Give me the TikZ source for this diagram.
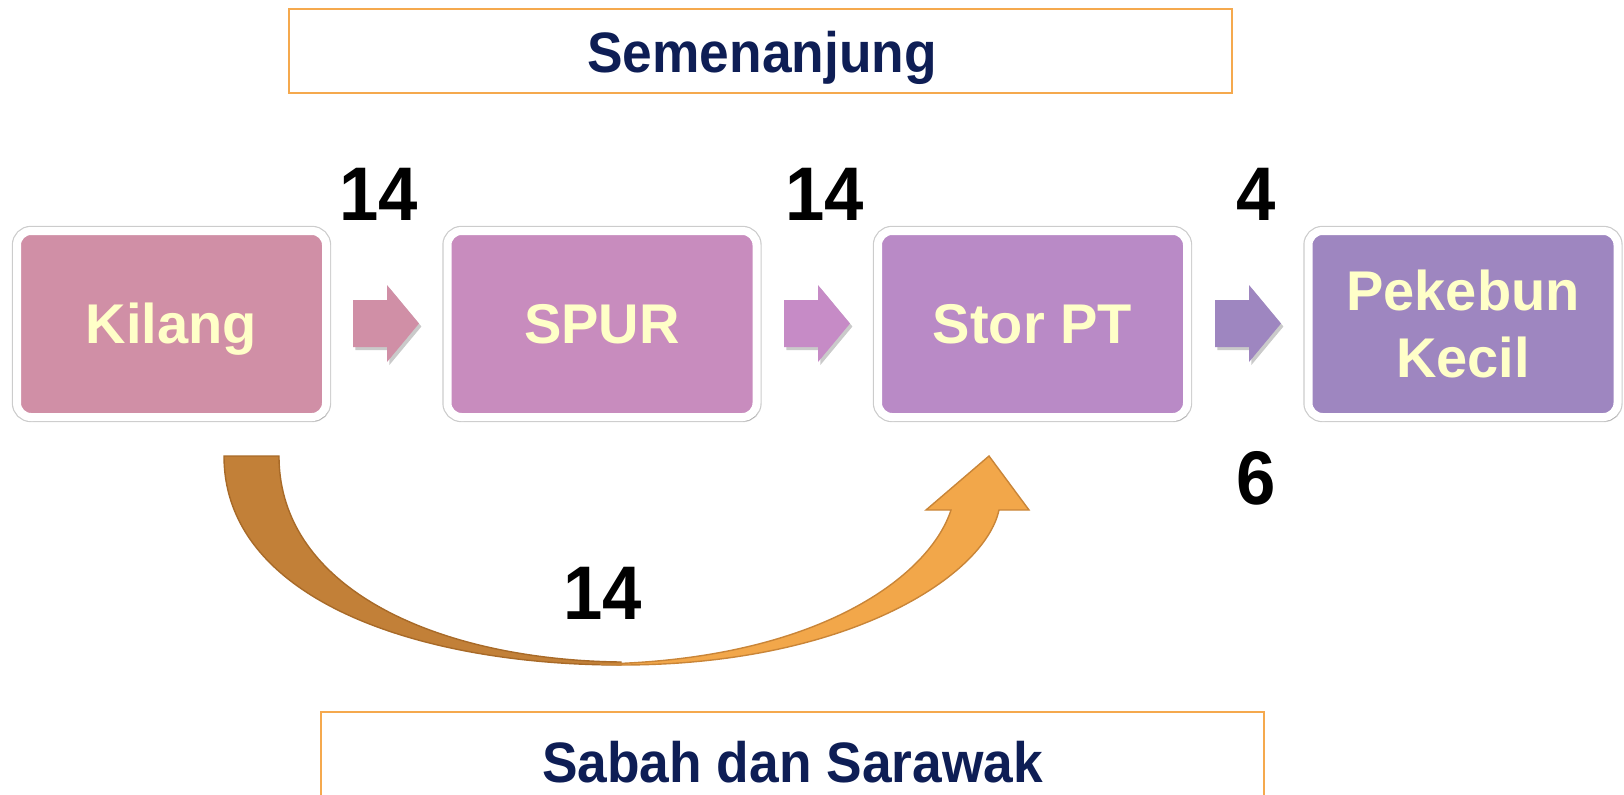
\documentclass[tikz,border=0pt]{standalone}
\usepackage{fontspec}
\setmainfont{Liberation Sans}
\usepackage{graphicx}
\usetikzlibrary{shadows}
\definecolor{cKil}{HTML}{D08FA6}
\definecolor{cSpur}{HTML}{C88CBE}
\definecolor{cStor}{HTML}{B98AC6}
\definecolor{cPek}{HTML}{9E86C0}
\definecolor{cArrB}{HTML}{C68BC6}
\definecolor{txtYel}{HTML}{FFFFC8}
\definecolor{navy}{HTML}{0E1E55}
\definecolor{orangeLine}{HTML}{F5A94E}
\definecolor{darkBand}{HTML}{C28038}
\definecolor{darkEdge}{HTML}{A86A28}
\definecolor{lightBand}{HTML}{F2A74A}
\definecolor{lightEdge}{HTML}{C98538}
\newcommand\blockarr[2]{%
  \fill[#2, drop shadow={shadow xshift=1.2pt,shadow yshift=-1.5pt,opacity=0.35,fill=black!60}]
    (#1,300) -- ++(34,0) -- ++(0,-15) -- ++(32,38.5) -- ++(-32,38.5) -- ++(0,-15) -- ++(-34,0) -- cycle;}
\begin{document}
\begin{tikzpicture}[x=0.5pt,y=-0.5pt,
  procbox/.style={draw=white, line width=4pt, rounded corners=7pt,
    minimum width=154.5pt, minimum height=93pt, inner sep=0pt,
    preaction={draw=black!20, line width=5.2pt},
    drop shadow={shadow xshift=1.2pt,shadow yshift=-2pt,opacity=0.35,fill=black!60}},
  boxtext/.style={text=txtYel, font=\bfseries\fontsize{28}{33.5}\selectfont, anchor=base, inner sep=0pt},
  numtext/.style={font=\bfseries\fontsize{38}{40}\selectfont, anchor=base, inner sep=0pt},
  regionbox/.style={draw=orangeLine, line width=1pt, fill=white},
  regiontext/.style={text=navy, font=\bfseries\fontsize{28.5}{30}\selectfont, anchor=base, inner sep=0pt}
]
\useasboundingbox (0,0) rectangle (1624,794);
% region boxes
\draw[regionbox] (289,9) rectangle (1232,93);
\node[regiontext] (semenanjung) at (762,72) {\scalebox{0.935}[1]{Semenanjung}};
\draw[regionbox] (321,712) rectangle (1264,830);
\node[regiontext] (sabah) at (792.5,782.5) {\scalebox{0.935}[1]{Sabah dan Sarawak}};
% process boxes
\node[procbox, fill=cKil] (kilang) at (171.5,324) {};
\node[procbox, fill=cSpur] (spur) at (602,324) {};
\node[procbox, fill=cStor] (stor) at (1032.5,324) {};
\node[procbox, fill=cPek] (pekebun) at (1463,324) {};
\node[boxtext] (tkilang) at (171.5,343) {Kilang};
\node[boxtext] (tspur) at (602,343) {SPUR};
\node[boxtext] (tstor) at (1032.5,343) {Stor PT};
\node[boxtext] (tpek1) at (1463,310) {Pekebun};
\node[boxtext] (tpek2) at (1463,377) {Kecil};
% block arrows
\blockarr{353}{cKil}
\blockarr{784}{cArrB}
\blockarr{1215}{cPek}
% numbers
\node[numtext] (n1) at (379,220.5) {\scalebox{0.93}[1]{14}};
\node[numtext] (n2) at (825,220.5) {\scalebox{0.93}[1]{14}};
\node[numtext] (n3) at (1256,220.5) {\scalebox{0.93}[1]{4}};
\node[numtext] (n4) at (1256,504) {\scalebox{0.93}[1]{6}};
\node[numtext] (n5) at (603,619) {\scalebox{0.93}[1]{14}};
% curved arrow
\filldraw[fill=darkBand, draw=darkEdge, line width=0.7pt]
  (224,456) .. controls (224,600) and (420,665) .. (621,665)
  -- (621,662) .. controls (440,660) and (279,590) .. (279,456) -- cycle;
\filldraw[fill=lightBand, draw=lightEdge, line width=0.7pt]
  (600,664) -- (621,665) .. controls (850,665) and (985,575) .. (999,510)
  -- (1029,510) -- (989,456) -- (926,510) -- (951,510)
  .. controls (930,575) and (820,660) .. (600,664) -- cycle;
\end{tikzpicture}
\end{document}
